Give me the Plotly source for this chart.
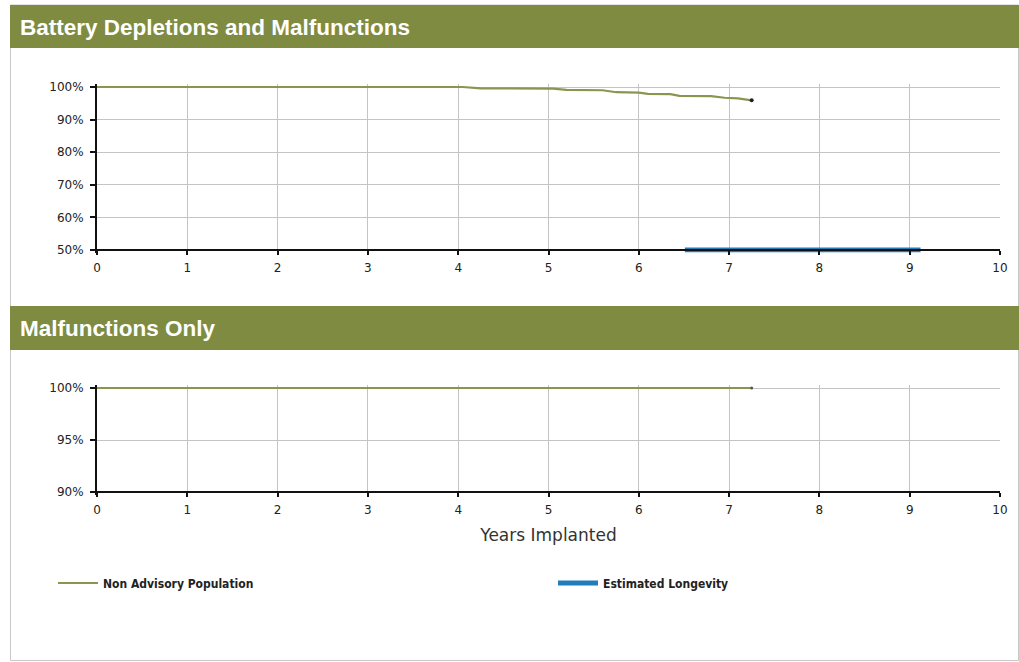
import plotly.graph_objects as go

W, H = 1019, 662

# ---- data ----
x_ticks = [0, 1, 2, 3, 4, 5, 6, 7, 8, 9, 10]
top_y_ticks = [50, 60, 70, 80, 90, 100]
top_y_labels = ["50%", "60%", "70%", "80%", "90%", "100%"]
bot_y_ticks = [90, 95, 100]
bot_y_labels = ["90%", "95%", "100%"]

top_years = [0, 4.05, 4.25, 5.05, 5.2, 5.6, 5.75, 6.0, 6.1, 6.35, 6.45, 6.8, 6.95, 7.1, 7.25]
top_surv = [100, 100, 99.6, 99.5, 99.1, 99.0, 98.4, 98.3, 97.9, 97.8, 97.3, 97.2, 96.7, 96.5, 95.9]

bot_years = [0, 7.25]
bot_surv = [100, 100]

longevity_years = [6.51, 9.12]
longevity_level = [50, 50]

OLIVE = "#8A9650"
BLUE = "#1F7DBB"
HEADER = "#7F8B41"


def py(px):
    return 1 - px / H


def pxx(px):
    return px / W


fig = go.Figure()

# top chart
fig.add_trace(go.Scatter(x=top_years, y=top_surv, mode="lines", name="Non Advisory Population",
                         line=dict(color=OLIVE, width=2.2), xaxis="x", yaxis="y", legend="legend"))
fig.add_trace(go.Scatter(x=top_years[-1:], y=top_surv[-1:], mode="markers", showlegend=False,
                         marker=dict(color="#222", size=4), xaxis="x", yaxis="y"))
fig.add_trace(go.Scatter(x=longevity_years, y=longevity_level, mode="lines", name="Estimated Longevity",
                         line=dict(color=BLUE, width=5), xaxis="x", yaxis="y", legend="legend2"))

# bottom chart
fig.add_trace(go.Scatter(x=bot_years, y=bot_surv, mode="lines", showlegend=False,
                         line=dict(color=OLIVE, width=2.2), xaxis="x2", yaxis="y2"))
fig.add_trace(go.Scatter(x=bot_years[-1:], y=bot_surv[-1:], mode="markers", showlegend=False,
                         marker=dict(color="#555", size=3), xaxis="x2", yaxis="y2"))

tickfont = dict(family="DejaVu Sans", size=12, color="#222")
common_x = dict(range=[0, 10], tickvals=x_ticks, showgrid=True, gridcolor="#C4C4C4", gridwidth=1,
                showline=True, linecolor="#111", linewidth=2, ticks="outside", ticklen=4,
                tickcolor="#111", tickwidth=2, tickfont=tickfont, zeroline=False, ticklabelstandoff=3,
                domain=[pxx(97), pxx(1000)], anchor="free", fixedrange=True, automargin=False)
common_y = dict(showgrid=True, gridcolor="#C4C4C4", gridwidth=1, showline=True, linecolor="#111",
                linewidth=2, ticks="outside", ticklen=5, tickcolor="#111", tickwidth=2,
                tickfont=tickfont, zeroline=False, fixedrange=True, automargin=False,
                ticklabelstandoff=4)

fig.update_layout(
    xaxis=dict(common_x, position=py(250)),
    yaxis=dict(common_y, range=[49.2, 100.8], tickvals=top_y_ticks, ticktext=top_y_labels,
               domain=[py(252.6), py(84.4)], anchor="x"),
    xaxis2=dict(common_x, position=py(492),
                title=dict(text="Years Implanted", font=dict(family="DejaVu Sans", size=17, color="#333"),
                           standoff=12)),
    yaxis2=dict(common_y, range=[89.75, 100.25], tickvals=bot_y_ticks, ticktext=bot_y_labels,
                domain=[py(494.6), py(385.4)], anchor="x2"),
)

shapes = [
    dict(type="rect", xref="paper", yref="paper", x0=pxx(10.5), x1=pxx(1018.5), y0=py(660.5), y1=py(5),
         line=dict(color="#C8C8C8", width=1), fillcolor="rgba(0,0,0,0)", layer="below"),
    dict(type="rect", xref="paper", yref="paper", x0=pxx(10), x1=1, y0=py(48), y1=py(5),
         line=dict(width=0), fillcolor=HEADER, layer="below"),
    dict(type="rect", xref="paper", yref="paper", x0=pxx(10), x1=1, y0=py(350), y1=py(306),
         line=dict(width=0), fillcolor=HEADER, layer="below"),
]
headfont = dict(family="Liberation Sans, Arial", size=22.5, color="white")
annotations = [
    dict(text="<b>Battery Depletions and Malfunctions</b>", xref="paper", yref="paper",
         x=pxx(18), y=py(27), xanchor="left", yanchor="middle", showarrow=False, font=headfont),
    dict(text="<b>Malfunctions Only</b>", xref="paper", yref="paper",
         x=pxx(18), y=py(328), xanchor="left", yanchor="middle", showarrow=False, font=headfont),
]

legfont = dict(family="DejaVu Sans Condensed", size=12, color="#222", weight="bold")
fig.update_layout(
    width=W, height=H,
    margin=dict(l=0, r=0, t=0, b=0, pad=0, autoexpand=False),
    paper_bgcolor="white", plot_bgcolor="white",
    shapes=shapes, annotations=annotations,
    showlegend=True,
    legend=dict(x=pxx(53), y=py(583), xanchor="left", yanchor="middle", itemwidth=40,
                bgcolor="rgba(0,0,0,0)", font=legfont, itemclick=False, itemdoubleclick=False),
    legend2=dict(x=pxx(553), y=py(583), xanchor="left", yanchor="middle", itemwidth=40,
                 bgcolor="rgba(0,0,0,0)", font=legfont, itemclick=False, itemdoubleclick=False),
)

# remove the default 8px page margin so the figure fills the window exactly
fig.write_html("out.html", config={"displayModeBar": False},
               post_script="document.body.style.margin='0';document.body.style.overflow='hidden';")
